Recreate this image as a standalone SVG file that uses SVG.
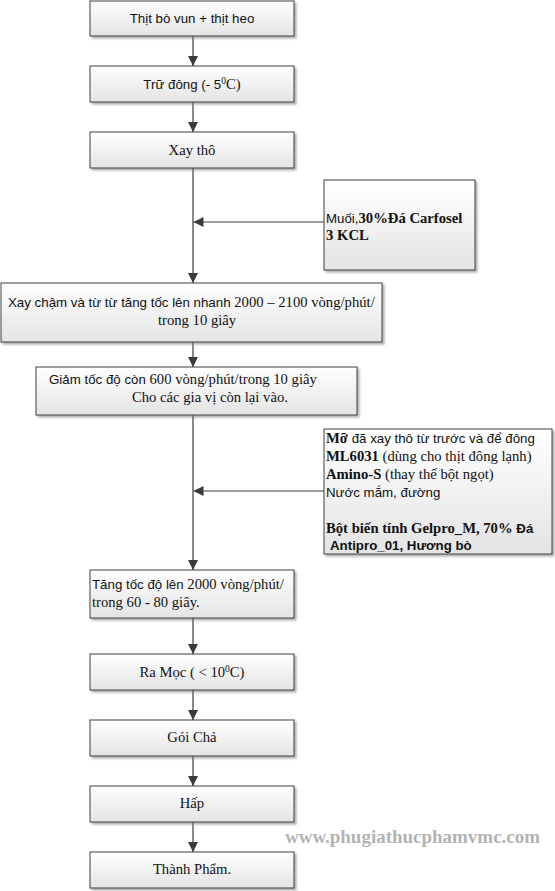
<svg xmlns="http://www.w3.org/2000/svg" width="555" height="891" viewBox="0 0 555 891">
<defs>
<linearGradient id="g" x1="0" y1="0" x2="0" y2="1">
<stop offset="0" stop-color="#ffffff"/>
<stop offset="1" stop-color="#e4e4e4"/>
</linearGradient>
<filter id="sh" x="-5%" y="-5%" width="115%" height="125%">
<feDropShadow dx="2" dy="2" stdDeviation="1" flood-color="#777" flood-opacity="0.6"/>
</filter>
<marker id="ah" viewBox="0 0 10 10" refX="10" refY="5" markerWidth="10" markerHeight="10" markerUnits="userSpaceOnUse" orient="auto">
<path d="M0,0 L10,5 L0,10 z" fill="#3a3a3a"/>
</marker>
</defs>
<style>
.box{fill:url(#g);stroke:#404040;stroke-width:1;filter:url(#sh)}
.c{stroke:#3a3a3a;stroke-width:1.2;fill:none;marker-end:url(#ah)}
text{fill:#111}
.s{font-family:"Liberation Sans",Arial,sans-serif;font-size:13.3px}
.r{font-family:"Liberation Serif","Times New Roman",serif;font-size:14.67px}
.b{font-weight:bold}
.m{text-anchor:middle}
.sup{font-family:"Liberation Serif","Times New Roman",serif;font-size:9.5px}
.wm{font-family:"Liberation Serif","Times New Roman",serif;font-size:19px;font-weight:bold;fill:#b3b3b3}
</style>

<g id="connectors">
<line class="c" x1="193" y1="36" x2="193" y2="66"/>
<line class="c" x1="193" y1="102" x2="193" y2="132"/>
<line class="c" x1="193" y1="168" x2="193" y2="283"/>
<line class="c" x1="324" y1="222" x2="193.5" y2="222"/>
<line class="c" x1="193" y1="342" x2="193" y2="367"/>
<line class="c" x1="193" y1="415" x2="193" y2="570"/>
<line class="c" x1="324" y1="491" x2="193.5" y2="491"/>
<line class="c" x1="193" y1="618" x2="193" y2="654"/>
<line class="c" x1="193" y1="690" x2="193" y2="720"/>
<line class="c" x1="193" y1="756" x2="193" y2="786"/>
<line class="c" x1="193" y1="822" x2="193" y2="852"/>
</g>

<g id="n1">
<rect class="box" x="90" y="1" width="204" height="35"/>
<text class="s m" x="192" y="23">Thịt bò vun + thịt heo</text>
</g>
<g id="n2">
<rect class="box" x="90" y="66" width="204" height="36"/>
<text class="s m" x="192" y="89">Trữ đông (- 5<tspan class="sup" dy="-5">0</tspan><tspan class="r" dy="5">C)</tspan></text>
</g>
<g id="n3">
<rect class="box" x="90" y="132" width="204" height="36"/>
<text class="r m" x="192" y="155">Xay thô</text>
</g>
<g id="n4">
<rect class="box" x="324" y="180" width="151" height="90"/>
<text class="s" x="326" y="223">Muối,<tspan class="r b">30%Đá Carfosel</tspan></text>
<text class="r b" x="326" y="240">3 KCL</text>
</g>
<g id="n5">
<rect class="box" x="1" y="283" width="381" height="59"/>
<text class="s" x="8" y="307">Xay chậm và từ từ tăng tốc lên nhanh <tspan class="r">2000 – 2100 vòng/phút/</tspan></text>
<text class="r" x="158" y="325">trong 10 giây</text>
</g>
<g id="n6">
<rect class="box" x="36" y="367" width="321" height="48"/>
<text class="s" x="49" y="384">Giảm tốc độ còn <tspan class="r">600 vòng/phút/trong 10 giây</tspan></text>
<text class="r" x="132" y="402">Cho các gia vị còn lại vào.</text>
</g>
<g id="n7">
<rect class="box" x="324" y="429" width="228" height="125"/>
<text class="r b" x="326" y="443">Mỡ<tspan class="s" font-weight="normal"> đã xay thô từ trước và để đông</tspan></text>
<text class="r" x="326" y="461"><tspan class="b">ML6031</tspan> (dùng cho thịt đông lạnh)</text>
<text class="r" x="326" y="479"><tspan class="b">Amino-S</tspan> (thay thế bột ngọt)</text>
<text class="s" x="326" y="497">Nước mắm, đường</text>
<text class="r b" x="326" y="533">Bột biến tính Gelpro_M, 70% <tspan class="s">Đá</tspan></text>
<text class="s b" x="330" y="550">Antipro_01, Hương bò</text>
</g>
<g id="n8">
<rect class="box" x="90" y="570" width="204" height="48"/>
<text class="s" x="92" y="589">Tăng tốc độ lên <tspan class="r">2000 vòng/phút/</tspan></text>
<text class="r" x="92" y="607">trong 60 - 80 giây.</text>
</g>
<g id="n9">
<rect class="box" x="90" y="654" width="204" height="36"/>
<text class="r m" x="192" y="677">Ra Mọc ( &lt; 10<tspan class="sup" dy="-5">0</tspan><tspan dy="5">C)</tspan></text>
</g>
<g id="n10">
<rect class="box" x="90" y="720" width="204" height="36"/>
<text class="r m" x="192" y="742">Gói Chả</text>
</g>
<g id="n11">
<rect class="box" x="90" y="786" width="204" height="36"/>
<text class="r m" x="192" y="808">Hấp</text>
</g>
<g id="n12">
<rect class="box" x="90" y="852" width="204" height="36"/>
<text class="r m" x="192" y="874">Thành Phẩm.</text>
</g>

<text class="wm" x="285" y="843" textLength="255" lengthAdjust="spacingAndGlyphs">www.phugiathucphamvmc.com</text>
</svg>
